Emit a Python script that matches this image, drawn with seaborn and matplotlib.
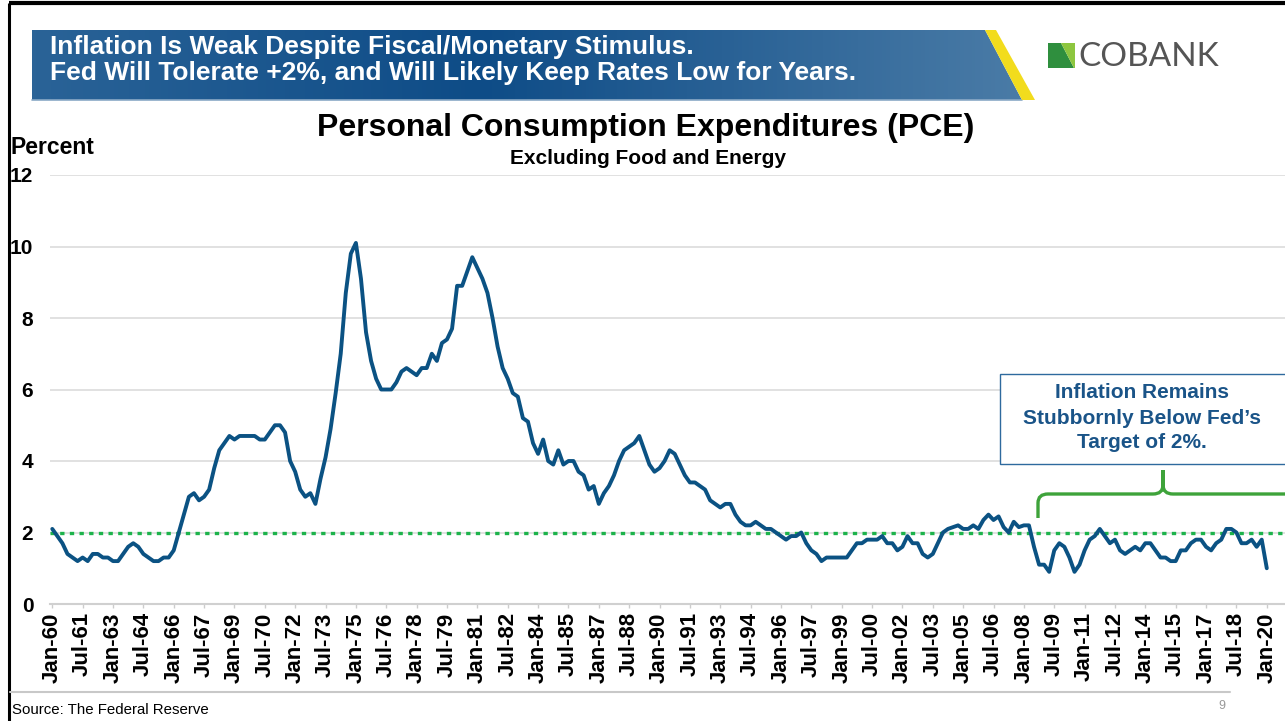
import numpy as np
import pandas as pd
import matplotlib
matplotlib.use("Agg")
import matplotlib.pyplot as plt
import seaborn as sns
from matplotlib.patches import Polygon, Rectangle, PathPatch
from matplotlib.path import Path
from matplotlib.colors import LinearSegmentedColormap

# ---------------------------------------------------------------------------
# Data: core PCE inflation (YoY %, quarterly)
# ---------------------------------------------------------------------------
pce = [
    2.1, 1.9, 1.7, 1.4,   1.3, 1.2, 1.3, 1.2,   1.4, 1.4, 1.3, 1.3,   # 1960-62
    1.2, 1.2, 1.4, 1.6,   1.7, 1.6, 1.4, 1.3,   1.2, 1.2, 1.3, 1.3,   # 1963-65
    1.5, 2.0, 2.5, 3.0,   3.1, 2.9, 3.0, 3.2,   3.8, 4.3, 4.5, 4.7,   # 1966-68
    4.6, 4.7, 4.7, 4.7,   4.7, 4.6, 4.6, 4.8,   5.0, 5.0, 4.8, 4.0,   # 1969-71
    3.7, 3.2, 3.0, 3.1,   2.8, 3.5, 4.1, 4.9,   5.9, 7.0, 8.7, 9.8,   # 1972-74
    10.1, 9.1, 7.6, 6.8,  6.3, 6.0, 6.0, 6.0,   6.2, 6.5, 6.6, 6.5,   # 1975-77
    6.4, 6.6, 6.6, 7.0,   6.8, 7.3, 7.4, 7.7,   8.9, 8.9, 9.3, 9.7,   # 1978-80
    9.4, 9.1, 8.7, 8.0,   7.2, 6.6, 6.3, 5.9,   5.8, 5.2, 5.1, 4.5,   # 1981-83
    4.2, 4.6, 4.0, 3.9,   4.3, 3.9, 4.0, 4.0,   3.7, 3.6, 3.2, 3.3,   # 1984-86
    2.8, 3.1, 3.3, 3.6,   4.0, 4.3, 4.4, 4.5,   4.7, 4.3, 3.9, 3.7,   # 1987-89
    3.8, 4.0, 4.3, 4.2,   3.9, 3.6, 3.4, 3.4,   3.3, 3.2, 2.9, 2.8,   # 1990-92
    2.7, 2.8, 2.8, 2.5,   2.3, 2.2, 2.2, 2.3,   2.2, 2.1, 2.1, 2.0,   # 1993-95
    1.9, 1.8, 1.9, 1.9,   2.0, 1.7, 1.5, 1.4,   1.2, 1.3, 1.3, 1.3,   # 1996-98
    1.3, 1.3, 1.5, 1.7,   1.7, 1.8, 1.8, 1.8,   1.9, 1.7, 1.7, 1.5,   # 1999-01
    1.6, 1.9, 1.7, 1.7,   1.4, 1.3, 1.4, 1.7,   2.0, 2.1, 2.15, 2.2,  # 2002-04
    2.1, 2.1, 2.2, 2.1,   2.35, 2.5, 2.35, 2.45, 2.15, 2.0, 2.3, 2.15, # 2005-07
    2.2, 2.2, 1.6, 1.1,   1.1, 0.9, 1.5, 1.7,   1.6, 1.3, 0.9, 1.1,   # 2008-10
    1.5, 1.8, 1.9, 2.1,   1.9, 1.7, 1.8, 1.5,   1.4, 1.5, 1.6, 1.5,   # 2011-13
    1.7, 1.7, 1.5, 1.3,   1.3, 1.2, 1.2, 1.5,   1.5, 1.7, 1.8, 1.8,   # 2014-16
    1.6, 1.5, 1.7, 1.8,   2.1, 2.1, 2.0, 1.7,   1.7, 1.8, 1.6, 1.8,   # 2017-19
    1.0,                                                              # 2020
]
fed_target = 2.0
y_ticks = [0, 2, 4, 6, 8, 10, 12]
label_step = 6  # one label every 18 months

dates = pd.date_range("1960-01-01", periods=len(pce), freq="QS")
tick_labels = list(dates.strftime("%b-%y"))
df = pd.DataFrame({"idx": np.arange(len(pce)), "pce": pce})

# ---------------------------------------------------------------------------
# Style
# ---------------------------------------------------------------------------
sns.set_theme(style="white")
plt.rcParams["font.family"] = ["Liberation Sans", "DejaVu Sans"]
plt.rcParams["text.color"] = "black"
plt.rcParams["xtick.color"] = "black"
plt.rcParams["ytick.color"] = "black"

W, H = 1285, 721
fig = plt.figure(figsize=(W / 100, H / 100), dpi=100)
fig.patch.set_facecolor("white")

# main chart axes
ax = fig.add_axes([50 / W, 1 - 604 / H, (W - 50) / W, 429 / H])
sns.lineplot(data=df, x="idx", y="pce", ax=ax, color="#0b5283",
             linewidth=2.8, zorder=4)
ax.axhline(fed_target, color="#1db34b", linewidth=2.4,
           linestyle=(0, (1.3, 1.6)), zorder=3)

ax.set_xlim(-0.45, 243.6)
ax.set_ylim(y_ticks[0], y_ticks[-1])
ax.set_yticks(y_ticks)
ax.set_yticklabels([str(t) for t in y_ticks], fontsize=15, fontweight="bold")
ax.set_xticks(df["idx"][::label_step])
ax.set_xticklabels(tick_labels[::label_step], rotation=90,
                   fontsize=16, fontweight="bold")
ax.yaxis.grid(True, color="#d9d9d9", linewidth=1.1)
ax.set_axisbelow(True)
ax.tick_params(axis="y", length=0, pad=12, labelcolor="black")
ax.tick_params(axis="x", length=3, width=1, color="#cccccc", pad=3,
               bottom=True, labelcolor="black")
for side in ["left", "top", "right"]:
    ax.spines[side].set_visible(False)
ax.spines["bottom"].set_color("#d0d0d0")
ax.spines["bottom"].set_linewidth(1.5)
ax.set_xlabel("")
ax.set_ylabel("")

# ---------------------------------------------------------------------------
# Overlay in pixel coordinates for slide decorations
# ---------------------------------------------------------------------------
ov = fig.add_axes([0, 0, 1, 1], zorder=5)
ov.set_xlim(0, W)
ov.set_ylim(H, 0)
ov.axis("off")
ov.patch.set_alpha(0)

# slide frame
ov.plot([9, 9], [3, H], color="black", linewidth=2.2, solid_capstyle="butt")
ov.plot([9, W], [3, 3], color="black", linewidth=3, solid_capstyle="butt")

# header banner with gradient
cmap = LinearSegmentedColormap.from_list(
    "banner", [(0, "#2a6397"), (0.45, "#0e4c87"), (1, "#4b7ca7")])
grad = np.linspace(0, 1, 256).reshape(1, -1)
im = ov.imshow(grad, cmap=cmap, aspect="auto",
               extent=(32, 1030, 100, 30), zorder=1)
banner = Polygon([(32, 30), (985, 30), (1022, 100), (32, 100)],
                 closed=True, transform=ov.transData, facecolor="none",
                 edgecolor="none")
ov.add_patch(banner)
im.set_clip_path(banner)
ov.plot([32, 1022], [99.5, 99.5], color="#8aa9c6", linewidth=1.2, zorder=2)
ov.add_patch(Polygon([(985, 30), (996, 30), (1035, 100), (1022, 100)],
                     closed=True, facecolor="#f2dc1d", edgecolor="none",
                     zorder=2))
ov.text(50, 47, "Inflation Is Weak Despite Fiscal/Monetary Stimulus.",
        color="white", fontsize=19, fontweight="bold", va="center",
        ha="left", zorder=3)
ov.text(50, 73, "Fed Will Tolerate +2%, and Will Likely Keep Rates Low for Years.",
        color="white", fontsize=19, fontweight="bold", va="center",
        ha="left", zorder=3)

# logo
ov.add_patch(Polygon([(1048, 43), (1061, 43), (1074, 68), (1048, 68)],
                     closed=True, facecolor="#2f8f3e", edgecolor="none"))
ov.add_patch(Polygon([(1061, 43), (1075, 43), (1075, 68), (1074, 68)],
                     closed=True, facecolor="#8dc63f", edgecolor="none"))
ov.text(1078, 57, "COBANK", fontsize=24, color="#555555", va="center",
        ha="left", family=["Lato", "DejaVu Sans"])

# titles
ov.text(646, 128, "Personal Consumption Expenditures (PCE)", fontsize=23,
        fontweight="bold", ha="center", va="center")
ov.text(648, 158, "Excluding Food and Energy", fontsize=15, fontweight="bold",
        ha="center", va="center")
ov.text(10, 148, "Percent", fontsize=16.5, fontweight="bold", ha="left",
        va="center")

# call-out box
ov.add_patch(Rectangle((1000, 374), 300, 90, facecolor="white",
                       edgecolor="#2e6a9e", linewidth=1.0, zorder=3))
for yy, line in zip([393, 418, 443], ["Inflation Remains",
                                      "Stubbornly Below Fed\u2019s",
                                      "Target of 2%."]):
    ov.text(1142, yy, line, fontsize=15, fontweight="bold", color="#1a5488",
            ha="center", va="center", zorder=4)

# bracket
verts = [(1038, 518), (1038, 503), (1038, 494), (1048, 494), (1153, 494),
         (1163, 494), (1163, 485), (1163, 470), (1163, 485), (1163, 494),
         (1173, 494), (1295, 494)]
codes = [Path.MOVETO, Path.LINETO, Path.CURVE3, Path.CURVE3, Path.LINETO,
         Path.CURVE3, Path.CURVE3, Path.LINETO, Path.LINETO, Path.CURVE3,
         Path.CURVE3, Path.LINETO]
ov.add_patch(PathPatch(Path(verts, codes), facecolor="none",
                       edgecolor="#3ea33a", linewidth=2.4, zorder=3))

# footer
ov.plot([10, 1230], [692, 692], color="#c8c8c8", linewidth=1.5)
ov.text(12, 710, "Source: The Federal Reserve", fontsize=10.8, ha="left",
        va="center")
ov.text(1222, 706, "9", fontsize=9, color="#999999", ha="center", va="center")

fig.savefig("out.png", dpi=100)
